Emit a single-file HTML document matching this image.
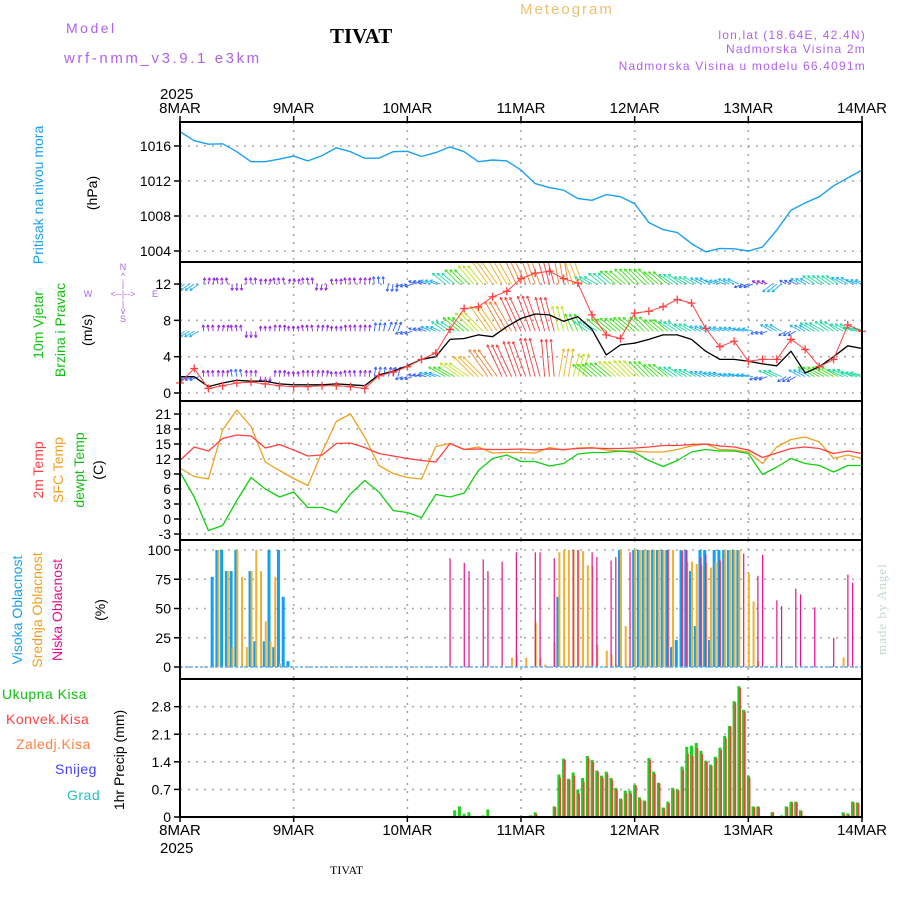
<!DOCTYPE html>
<html><head><meta charset="utf-8"><title>Meteogram TIVAT</title>
<style>
html,body{margin:0;padding:0;background:#fff;}
svg{display:block;font-family:"Liberation Sans",sans-serif;}
</style></head>
<body>
<svg id="chart" width="900" height="900" viewBox="0 0 900 900" xmlns="http://www.w3.org/2000/svg">
<g>
<text x="66" y="33" font-size="14" fill="#b060f0" letter-spacing="2.5">Model</text>
<text x="64" y="63" font-size="15" fill="#b060f0" letter-spacing="2.6">wrf-nmm_v3.9.1 e3km</text>
<text x="330" y="43" font-size="21" font-weight="bold" font-family="Liberation Serif,serif" fill="#000">TIVAT</text>
<text x="520" y="14" font-size="15" fill="#f0c070" letter-spacing="2">Meteogram</text>
<text x="866" y="39" font-size="12" fill="#b060f0" text-anchor="end" letter-spacing="1.2">lon,lat (18.64E, 42.4N)</text>
<text x="866" y="53" font-size="12" fill="#b060f0" text-anchor="end" letter-spacing="1.2">Nadmorska Visina 2m</text>
<text x="866" y="70" font-size="12" fill="#b060f0" text-anchor="end" letter-spacing="1.2">Nadmorska Visina u modelu 66.4091m</text>
<text x="160" y="99" font-size="15" fill="#000">2025</text>
<text x="160" y="853" font-size="15" fill="#000">2025</text>
<text x="330" y="874" font-size="12" font-family="Liberation Serif,serif" fill="#000">TIVAT</text>
<text transform="translate(886,655) rotate(-90)" font-size="13" font-family="Liberation Serif,serif" fill="#c8d8c8" letter-spacing="1">made by Angel</text>
</g>
<g>
<text transform="translate(43,195) rotate(-90)" font-size="14" fill="#1aa0f0" text-anchor="middle">Pritisak na nivou mora</text>
<text transform="translate(97,193) rotate(-90)" font-size="14" fill="#000" text-anchor="middle">(hPa)</text>
<text transform="translate(43,325) rotate(-90)" font-size="14" fill="#10c010" text-anchor="middle">10m Vjetar</text>
<text transform="translate(65,330) rotate(-90)" font-size="14" fill="#10c010" text-anchor="middle">Brzina i Pravac</text>
<text transform="translate(92,330) rotate(-90)" font-size="14" fill="#000" text-anchor="middle">(m/s)</text>
<g font-size="9" fill="#b060f0" text-anchor="middle">
<text x="123" y="270">N</text><text x="123" y="279">^</text><text x="123" y="287">|</text>
<text x="123" y="297">&lt;--|--&gt;</text><text x="88" y="297">W</text><text x="155" y="297">E</text>
<text x="123" y="307">|</text><text x="123" y="314">v</text><text x="123" y="322">S</text>
</g>
<text transform="translate(43,470) rotate(-90)" font-size="14" fill="#ff4040" text-anchor="middle">2m Temp</text>
<text transform="translate(63,470) rotate(-90)" font-size="14" fill="#f0a020" text-anchor="middle">SFC Temp</text>
<text transform="translate(84,470) rotate(-90)" font-size="14" fill="#10c010" text-anchor="middle">dewpt Temp</text>
<text transform="translate(103,470) rotate(-90)" font-size="14" fill="#000" text-anchor="middle">(C)</text>
<text transform="translate(22,610) rotate(-90)" font-size="14" fill="#1aa0f0" text-anchor="middle">Visoka Oblacnost</text>
<text transform="translate(42,610) rotate(-90)" font-size="14" fill="#f0a020" text-anchor="middle">Srednja Oblacnost</text>
<text transform="translate(62,610) rotate(-90)" font-size="14" fill="#e0108f" text-anchor="middle">Niska Oblacnost</text>
<text transform="translate(105,610) rotate(-90)" font-size="14" fill="#000" text-anchor="middle">(%)</text>
<text x="2" y="699" font-size="14" fill="#10c010" letter-spacing="0.5">Ukupna Kisa</text>
<text x="6" y="724" font-size="14" fill="#ff4040" letter-spacing="0.5">Konvek.Kisa</text>
<text x="16" y="749" font-size="14" fill="#ff8040" letter-spacing="0.5">Zaledj.Kisa</text>
<text x="55" y="774" font-size="14" fill="#4040ff" letter-spacing="0.5">Snijeg</text>
<text x="67" y="800" font-size="14" fill="#20c0c0" letter-spacing="0.5">Grad</text>
<text transform="translate(124,760) rotate(-90)" font-size="14" fill="#000" text-anchor="middle">1hr Precip (mm)</text>
</g>
<g id="grid"></g>
<g id="marks"></g>
<g id="frames"></g>
</svg>
<script>
// ---------- data ----------
const dayLabels = ["8MAR","9MAR","10MAR","11MAR","12MAR","13MAR","14MAR"];
const pressureTicks = [1016,1012,1008,1004];
const windTicks = [0,4,8,12];
const tempTicks = [21,18,15,12,9,6,3,0,-3];
const cloudTicks = [0,25,50,75,100];
const precipTicks = [0,0.7,1.4,2.1,2.8];
// 3-hourly series (49 values, 8MAR 00 .. 14MAR 00)
const pressure = [1017.65,1016.6,1016.2,1016.25,1015.35,1014.2,1014.2,1014.5,1014.85,1014.3,1014.9,1015.8,1015.35,1014.6,1014.6,1015.35,1015.4,1014.8,1015.25,1015.9,1015.35,1014.2,1014.4,1014.3,1013.25,1011.7,1011.25,1010.95,1010.0,1009.8,1010.45,1010.2,1009.4,1007.25,1006.45,1006.1,1004.85,1003.9,1004.3,1004.25,1004.0,1004.45,1006.4,1008.65,1009.5,1010.2,1011.45,1012.35,1013.25];
const windSpeed = [1.8,1.8,0.7,1.1,1.4,1.3,1.3,1.0,0.9,0.9,0.9,1.0,0.9,0.8,2.0,2.4,3.0,3.7,4.0,5.9,6.0,6.4,6.2,7.3,8.2,8.7,8.6,7.9,8.4,7.0,4.2,5.3,5.5,5.9,6.4,6.4,5.9,4.6,3.7,3.7,3.5,3.2,3.0,4.6,2.2,2.9,4.0,5.2,4.9];
const windGust = [1.1,2.7,0.5,0.8,1.1,1.2,1.0,0.8,0.7,0.7,0.8,0.8,0.7,0.5,1.9,2.3,2.9,3.7,4.4,7.0,9.3,9.5,10.6,11.2,12.6,13.2,13.4,12.6,12.1,8.6,6.4,6.0,8.8,9.0,9.5,10.3,9.9,7.1,5.1,5.7,3.5,3.7,3.7,5.9,4.8,2.9,3.7,7.5,6.8];
const temp2m = [11.7,14.4,13.6,16.1,16.8,16.6,14.2,14.9,13.8,12.6,12.8,15.1,15.2,14.3,13.1,12.6,12.1,11.7,11.4,15.1,13.9,14.0,13.9,13.9,14.0,13.8,14.0,13.9,14.1,14.2,14.1,14.1,14.2,14.4,14.7,14.7,14.9,15.0,14.6,14.4,13.8,12.3,13.2,14.1,14.4,14.1,13.1,13.6,13.1];
const tempSfc = [10.2,8.5,8.0,17.8,21.8,18.5,11.4,9.7,8.1,6.7,13.4,19.5,21.0,16.4,10.7,9.1,8.3,8.0,14.5,15.1,13.9,14.4,13.2,13.3,13.3,13.2,14.3,13.8,14.2,14.3,13.8,13.6,13.6,13.4,13.4,13.9,14.6,15.0,13.9,13.8,13.4,11.1,14.4,15.9,16.4,15.4,12.1,12.8,12.1];
const tempDew = [9.4,4.4,-2.3,-1.3,3.7,8.3,6.0,4.4,5.4,2.3,2.3,1.3,5.0,7.7,5.4,1.7,1.3,0.3,4.9,4.4,5.2,9.7,12.1,12.8,11.5,11.5,10.6,11.1,13.0,13.3,13.3,13.6,13.3,11.7,10.5,11.7,13.4,13.9,13.6,13.6,13.1,8.9,10.4,12.1,11.1,10.7,9.4,10.7,10.7];
// wind arrows per level (3-hourly speed and arrow direction in degrees, math convention)
const arrowSpd1 = [8,7,3,3,3,3,2,3,2,3,3,2,3,3,4,4,4,5,7,12,15,18,22,24,26,27,28,26,22,10,12,15,16,16,14,12,10,8,7,8,6,3,8,4,7,10,10,9,8];
const arrowDir1 = [215,215,80,100,270,95,85,100,80,95,260,90,100,85,95,260,200,160,160,140,135,130,125,120,115,110,105,100,110,150,140,140,135,135,140,145,150,150,160,155,200,150,220,150,150,145,145,150,160];
const arrowSpd2 = [8,7,3,3,3,3,2,3,2,3,3,2,3,3,5,6,4,5,7,12,16,20,24,27,30,30,28,20,14,12,14,15,16,15,13,12,10,8,8,7,7,4,9,5,8,12,12,10,10];
const arrowDir2 = [215,210,95,80,100,270,90,85,95,100,80,90,95,85,80,70,200,160,155,145,140,135,125,120,115,110,105,105,115,145,140,140,140,135,140,145,150,155,160,160,165,200,150,210,150,150,145,150,165];
const arrowSpd3 = [7,6,3,3,4,3,2,3,2,3,3,2,3,3,6,6,4,5,8,14,18,22,26,28,30,32,30,22,18,14,16,17,17,16,14,12,10,8,8,7,8,5,10,6,9,14,14,12,12];
const arrowDir3 = [210,200,95,85,100,90,270,85,95,90,80,95,100,85,80,75,200,165,160,150,145,135,125,115,110,105,95,80,75,140,140,138,135,135,140,145,150,155,160,165,170,200,155,210,150,150,150,155,165];
// hourly cloud cover (145 values)
const cloudHigh = [0,0,0,0,0,0,0,77,100,100,82,82,100,0,0,82,22,0,22,100,17,100,60,5,
0,0,0,0,0,0,0,0,0,0,0,0,0,0,0,0,0,0,0,0,0,0,0,0,
0,0,0,0,0,0,0,0,0,0,0,0,0,0,0,0,0,0,0,0,0,0,0,0,
0,0,0,0,0,0,0,0,60,0,0,0,0,0,0,0,0,0,0,0,0,100,0,0,
100,100,100,100,100,100,100,100,17,23,100,100,82,35,100,100,23,100,100,100,100,100,100,0,
0,0,0,0,0,0,0,0,0,0,0,0,0,0,0,0,0,0,0,0,0,0,0,0,0];
const cloudMid = [0,0,0,0,0,0,0,0,100,0,82,17,100,77,17,82,100,82,39,22,77,3,0,0,
0,0,0,0,0,0,0,0,0,0,0,0,0,0,0,0,0,0,0,0,0,0,0,0,
0,0,0,0,0,0,0,0,0,0,0,0,0,0,0,0,0,0,1,0,0,0,8,10,
0,8,0,38,8,2,0,21,98,100,100,100,100,99,87,86,19,0,14,11,2,100,35,0,
100,100,100,100,100,100,100,100,100,0,100,90,90,88,87,89,85,90,90,100,100,100,100,0,
80,56,5,0,0,0,0,0,0,0,0,0,0,0,0,0,0,0,0,0,8,0,0,0,0];
const cloudLow = [0,0,0,0,0,0,0,0,0,0,0,0,0,0,0,0,0,0,0,0,0,0,0,0,
0,0,0,0,0,0,0,0,0,0,0,0,0,0,0,0,0,0,0,0,0,0,0,0,
0,0,0,0,0,0,0,0,0,93,0,0,89,82,0,0,92,82,0,0,90,0,0,98,
0,0,0,98,98,0,0,93,0,0,0,100,100,0,0,98,94,0,0,91,94,0,0,98,
0,0,0,0,0,0,0,100,0,0,99,100,0,0,94,96,0,0,92,0,0,0,0,97,
0,0,78,96,0,0,57,52,0,0,67,62,0,0,51,0,0,0,25,0,0,79,72,0,0];
// hourly precipitation (145 values)
const precipTotal = [0,0,0,0,0,0,0,0,0,0,0,0,0,0,0,0,0,0,0,0,0,0,0,0,
0,0,0,0,0,0,0,0,0,0,0,0,0,0,0,0,0,0,0,0,0,0,0,0,
0,0,0,0,0,0,0,0,0,0,0.17,0.27,0.08,0.12,0,0,0.04,0.19,0,0,0,0,0,0,
0,0,0.04,0.12,0,0,0,0.27,1.08,1.48,0.97,1.13,0.7,0.99,1.55,1.45,1.18,1.05,1.15,0.99,0.74,0.47,0.67,0.67,
0.82,0.5,0.42,1.5,1.15,0.87,0.24,0.39,0.74,0.7,1.28,1.78,1.81,1.88,1.68,1.43,1.33,1.53,1.76,2.06,2.31,2.94,3.32,2.72,
1.05,0.27,0.27,0,0,0.12,0,0.04,0.27,0.39,0.39,0.17,0.03,0,0,0,0,0,0,0,0.12,0.09,0.39,0.37,0];
const precipConv = [0,0,0,0,0,0,0,0,0,0,0,0,0,0,0,0,0,0,0,0,0,0,0,0,
0,0,0,0,0,0,0,0,0,0,0,0,0,0,0,0,0,0,0,0,0,0,0,0,
0,0,0,0,0,0,0,0,0,0,0,0,0,0,0,0,0,0,0,0,0,0,0,0,
0,0,0.04,0.08,0,0,0,0.25,1.0,1.45,0.95,1.05,0.6,0.9,1.5,1.4,1.15,1.0,1.1,0.95,0.7,0.45,0.6,0.6,
0.8,0.45,0.4,1.45,1.1,0.85,0.22,0.35,0.7,0.68,1.2,1.6,1.55,1.75,1.6,1.4,1.3,1.5,1.7,2.0,2.3,2.9,3.28,2.68,
1.0,0.25,0.25,0,0,0.12,0,0.02,0.25,0.37,0.37,0.15,0,0,0,0,0,0,0,0,0.08,0.06,0.37,0.35,0];

// ---------- axes ----------
const X0=180, X1=862, HOURS=144;
const xH = h => X0 + h*(X1-X0)/HOURS;
const x3 = i => xH(i*3);
const yP = p => 146 + (1016-p)*8.75;
const yW = v => 393 - v*9.08;
const yT = t => 519 - t*5.0;
const yC = c => 667 - c*1.17;
const yR = p => 817 - p*39.4;
const panels = [
  {name:'pressure-panel', top:122, bot:262, ticks:pressureTicks, f:yP, fmt:v=>String(v)},
  {name:'wind-panel', top:262, bot:401, ticks:windTicks, f:yW, fmt:v=>String(v)},
  {name:'temp-panel', top:401, bot:540, ticks:tempTicks, f:yT, fmt:v=>String(v)},
  {name:'cloud-panel', top:540, bot:679, ticks:cloudTicks, f:yC, fmt:v=>String(v)},
  {name:'precip-panel', top:679, bot:817, ticks:precipTicks, f:yR, fmt:v=>String(v)}
];
const NS='http://www.w3.org/2000/svg';
function mk(tag, attrs, parent){
  const e=document.createElementNS(NS,tag);
  for(const k in attrs) e.setAttribute(k,attrs[k]);
  parent.appendChild(e); return e;
}
const grid=document.getElementById('grid');
const marks=document.getElementById('marks');
const frames=document.getElementById('frames');
const dotted={stroke:'#a8a8a8','stroke-width':1.6,'stroke-dasharray':'2,6'};

panels.forEach(p=>{
  const g=mk('g',{},grid);
  
  
  for(let d=1; d<dayLabels.length-1; d++){
    const vx=xH(d*24);
    mk('line',Object.assign({x1:vx,x2:vx,y1:p.top,y2:p.bot},dotted),g);
  }
  p.ticks.forEach(t=>{
    const ty=p.f(t);
    if(ty>p.top+3 && ty<p.bot-3) mk('line',Object.assign({x1:X0,x2:X1,y1:ty,y2:ty},dotted),g);
    const tk=mk('line',{x1:X0-6,x2:X0,y1:ty,y2:ty,stroke:'#000','stroke-width':1.5},g);
    
    
    const lb=mk('text',{x:X0-9,y:ty+5,'font-size':14,'text-anchor':'end',fill:'#000'},g);
    lb.textContent=p.fmt(t);
    
    
  });
  const fr=mk('rect',{x:X0,y:p.top,width:X1-X0,height:p.bot-p.top,fill:'none',stroke:'#000','stroke-width':2},frames);
  
  
});
// day labels top & bottom
dayLabels.forEach((d,i)=>{
  const vx=xH(i*24);
  [[113,'top'],[835,'bottom']].forEach(([yy,pos])=>{
    const t=mk('text',{x:vx,y:yy,'font-size':15,'text-anchor':'middle',fill:'#000'},grid);
    t.textContent=d;
    
    
  });
  const tk=mk('line',{x1:vx,x2:vx,y1:116,y2:122,stroke:'#000','stroke-width':1.5},grid);
  
  
  const tk2=mk('line',{x1:vx,x2:vx,y1:817,y2:822,stroke:'#000','stroke-width':1.5},grid);
  
  
});

function line(arr, fy, color, name, w){
  const pts=arr.map((v,i)=>x3(i).toFixed(1)+','+fy(v).toFixed(1)).join(' ');
  const pl=mk('polyline',{points:pts,fill:'none',stroke:color,'stroke-width':w||1.3,'stroke-linejoin':'round'},marks);
  
  
}
// pressure
line(pressure,yP,'#1aa0f0','pressure-line',1.4);

// wind arrows
function spdColor(s){
  if(s<4) return '#9020e0';
  if(s<7) return '#3060ff';
  if(s<10) return '#20b0f0';
  if(s<13) return '#20d8a0';
  if(s<17) return '#40e020';
  if(s<21) return '#c0e020';
  if(s<25) return '#f0b020';
  if(s<28) return '#f08030';
  return '#f04040';
}
const wclip=mk('clipPath',{id:'wclip'},marks);
mk('rect',{x:X0,y:262,width:X1-X0,height:139},wclip);
const wg=mk('g',{'clip-path':'url(#wclip)'},marks);


function arrowRow(spd,dir,baseVal,rowName){
  const by=yW(baseVal);
  spd.forEach((s,i)=>{
    const a=dir[i]*Math.PI/180, L=s*1.15+3;
    for(let k=-1;k<=1;k++){
      const bx=x3(i)+k*4.74;
      const ex=bx+Math.cos(a)*L, ey=by-Math.sin(a)*L;
      const col=spdColor(s);
      const l=mk('line',{x1:bx,y1:by,x2:ex,y2:ey,stroke:col,'stroke-width':0.9},wg);
      
      
      const ha=a+Math.PI;
      [0.5,-0.5].forEach(o=>{
        mk('line',{x1:ex,y1:ey,x2:ex+Math.cos(ha+o)*2.8,y2:ey-Math.sin(ha+o)*2.8,stroke:col,'stroke-width':0.9},wg);
      });
    }
  });
}
arrowRow(arrowSpd1,arrowDir1,12,'wind-level-1');
arrowRow(arrowSpd2,arrowDir2,6.8,'wind-level-2');
arrowRow(arrowSpd3,arrowDir3,1.8,'wind-level-3');
line(windSpeed,yW,'#000','wind-speed-line',1.3);
line(windGust,yW,'#ff4040','wind-gust-line',1.0);
windGust.forEach((v,i)=>{
  const cx=x3(i), cy=yW(v);
  const m=mk('path',{d:`M${cx-4},${cy}H${cx+4}M${cx},${cy-4}V${cy+4}`,stroke:'#ff4040','stroke-width':1.3},marks);
  
  
});

// temperatures
line(tempSfc,yT,'#f0a020','sfc-temp-line',1.3);
line(temp2m,yT,'#ff4040','temp-2m-line',1.3);
line(tempDew,yT,'#10d010','dewpoint-line',1.3);

// clouds
cloudHigh.forEach((v,i)=>{
  if(v<=0) return;
  const r=mk('rect',{x:xH(i)-2.5,y:yC(v),width:3,height:yC(0)-yC(v),fill:'#10a0f8'},marks);
  
  
});
cloudMid.forEach((v,i)=>{
  if(v<=0) return;
  const r=mk('rect',{x:xH(i)-0.5,y:yC(v),width:2,height:yC(0)-yC(v),fill:'#f0b030'},marks);
  
  
});
cloudLow.forEach((v,i)=>{
  if(v<=0) return;
  const r=mk('rect',{x:xH(i)-0.5,y:yC(v),width:1.2,height:yC(0)-yC(v),fill:'#e8108f'},marks);
  
  
});
mk('line',{x1:X0,x2:X1,y1:yC(0),y2:yC(0),stroke:'#60b0f0','stroke-width':1.5,'stroke-dasharray':'3,2'},marks);

// precipitation
precipTotal.forEach((v,i)=>{
  if(v<=0) return;
  const r=mk('rect',{x:xH(i)-1.5,y:yR(v),width:3,height:yR(0)-yR(v),fill:'#20d020'},marks);
  
  
});
precipConv.forEach((v,i)=>{
  if(v<=0) return;
  const r=mk('rect',{x:xH(i)+0.3,y:yR(v),width:1.8,height:yR(0)-yR(v),fill:'#f04040'},marks);
  
  
});
</script>
</body></html>
